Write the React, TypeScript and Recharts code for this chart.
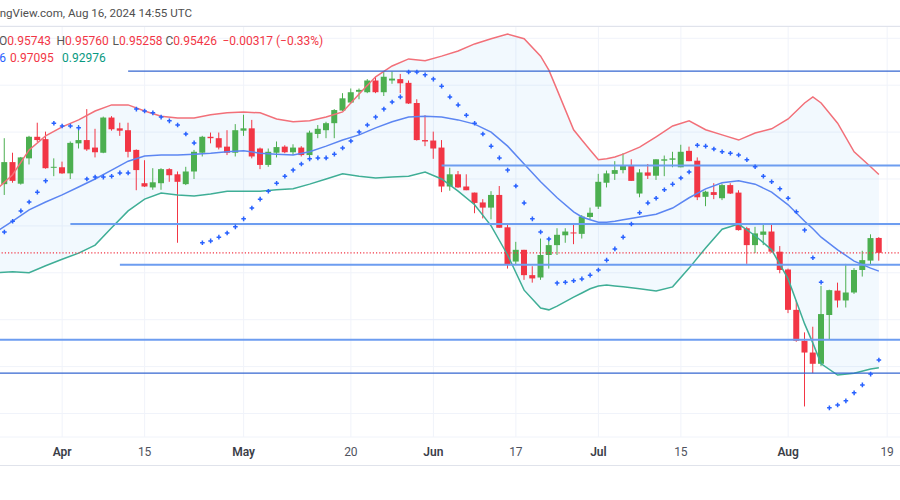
import React from "react";
import {
  ComposedChart,
  Bar,
  Line,
  Area,
  XAxis,
  YAxis,
  CartesianGrid,
  ReferenceLine,
} from "recharts";

const FONT = "Roboto, 'Noto Sans', Arial, sans-serif";
const UP = "#4caf50";
const DOWN = "#f23645";

// weekdays 2024-03-20 .. 2024-08-21 (index i = k - 8, i=0 is Apr 1)
const makeDates = () => {
  const out: string[] = [];
  const d = new Date(Date.UTC(2024, 2, 20));
  while (out.length < 111) {
    const wd = d.getUTCDay();
    if (wd !== 0 && wd !== 6) out.push(d.toISOString().slice(0, 10));
    d.setUTCDate(d.getUTCDate() + 1);
  }
  return out;
};
const dates = makeDates();

const tickDates = [
  "2024-04-01", "2024-04-15", "2024-05-01", "2024-05-20", "2024-06-03",
  "2024-06-17", "2024-07-01", "2024-07-15", "2024-08-01", "2024-08-19",
];
const tickLabels = ["Apr", "15", "May", "20", "Jun", "17", "Jul", "15", "Aug", "19"];
const gridPrices = [0.92, 0.93, 0.94, 0.95, 0.96, 0.97, 0.98, 0.99, 1.0];

// daily candles, first one is i = -7 (Mar 21), last i = 99 (Aug 16)
const CANDLE_FIRST = -7;
const open = [
  0.9689, 0.9736, 0.969, 0.9744, 0.979, 0.9785, 0.9724, 0.9725, 0.9712, 0.9776,
  0.9783, 0.9767, 0.9756, 0.9831, 0.9808, 0.9804, 0.9762, 0.9691, 0.9682, 0.9691,
  0.9721, 0.971, 0.9689, 0.9716, 0.9756, 0.979, 0.9787, 0.9769, 0.9756, 0.9803,
  0.9808, 0.9765, 0.973, 0.9756, 0.9769, 0.9757, 0.9767, 0.9751, 0.9796, 0.9804,
  0.9819, 0.9846, 0.9863, 0.9886, 0.9885, 0.991, 0.9885, 0.991, 0.9913, 0.9905,
  0.9862, 0.9783, 0.9782, 0.9767, 0.9684, 0.971, 0.9684, 0.9671, 0.965, 0.9639,
  0.9666, 0.9597, 0.9524, 0.9549, 0.9495, 0.949, 0.9538, 0.9559, 0.958, 0.9586,
  0.9583, 0.9619, 0.9641, 0.9692, 0.9711, 0.9719, 0.9728, 0.9669, 0.9714, 0.9707,
  0.9739, 0.9741, 0.9725, 0.976, 0.9739, 0.9662, 0.9672, 0.9659, 0.9687, 0.9671,
  0.9595, 0.9559, 0.9581, 0.9588, 0.9545, 0.9507, 0.9421, 0.9355, 0.933, 0.9306,
  0.941, 0.9462, 0.9441, 0.9458, 0.9506, 0.9526, 0.95743,
];
const high = [
  0.9787, 0.9756, 0.9747, 0.9792, 0.982, 0.9801, 0.9744, 0.9737, 0.978, 0.9815,
  0.9849, 0.9807, 0.9833, 0.9834, 0.982, 0.982, 0.9763, 0.974, 0.9723, 0.9723,
  0.9723, 0.9716, 0.9726, 0.9762, 0.9792, 0.9799, 0.9799, 0.9804, 0.9817, 0.9837,
  0.9826, 0.9767, 0.9765, 0.978, 0.9772, 0.9774, 0.977, 0.9803, 0.9815, 0.9822,
  0.9849, 0.9883, 0.9893, 0.9893, 0.9913, 0.9918, 0.9929, 0.9929, 0.9924, 0.991,
  0.987, 0.9836, 0.9801, 0.9783, 0.9724, 0.9717, 0.971, 0.9671, 0.9657, 0.9674,
  0.9685, 0.9604, 0.9566, 0.9549, 0.9514, 0.9573, 0.9573, 0.9595, 0.9595, 0.9605,
  0.9623, 0.9639, 0.9711, 0.9718, 0.9738, 0.9755, 0.9742, 0.9721, 0.9732, 0.9742,
  0.975, 0.9758, 0.9773, 0.9769, 0.9746, 0.9675, 0.9691, 0.969, 0.9691, 0.9676,
  0.9598, 0.9598, 0.9604, 0.9604, 0.9557, 0.9509, 0.9441, 0.9373, 0.9385, 0.9472,
  0.9464, 0.9479, 0.9519, 0.951, 0.9547, 0.9582, 0.9576,
];
const low = [
  0.9666, 0.9692, 0.9688, 0.9731, 0.9779, 0.9722, 0.9706, 0.9711, 0.97, 0.9765,
  0.976, 0.9746, 0.9755, 0.9803, 0.9792, 0.9746, 0.9676, 0.9683, 0.9677, 0.9677,
  0.9694, 0.9564, 0.9687, 0.97, 0.9748, 0.9776, 0.9763, 0.9751, 0.9748, 0.9792,
  0.9744, 0.9721, 0.9726, 0.9746, 0.9755, 0.9751, 0.9748, 0.9742, 0.9787, 0.9787,
  0.9787, 0.9845, 0.9861, 0.987, 0.9883, 0.9883, 0.9877, 0.9903, 0.9883, 0.986,
  0.9782, 0.977, 0.9743, 0.9672, 0.9675, 0.9681, 0.9676, 0.9627, 0.9616, 0.9614,
  0.9596, 0.9509, 0.9517, 0.9485, 0.9479, 0.9485, 0.9509, 0.9538, 0.9564, 0.9561,
  0.9573, 0.9613, 0.9636, 0.9682, 0.9698, 0.9712, 0.9696, 0.9661, 0.97, 0.9698,
  0.9706, 0.9725, 0.9725, 0.9738, 0.9655, 0.9642, 0.9657, 0.9655, 0.9668, 0.959,
  0.9519, 0.9542, 0.9559, 0.9543, 0.9499, 0.9414, 0.9353, 0.9215, 0.9286, 0.9301,
  0.9358, 0.9426, 0.9426, 0.9455, 0.9492, 0.9517, 0.95258,
];
const close = [
  0.9736, 0.9696, 0.9746, 0.979, 0.9783, 0.9723, 0.9726, 0.9712, 0.9777, 0.9783,
  0.9763, 0.9757, 0.9831, 0.9806, 0.9803, 0.9758, 0.9719, 0.9684, 0.9693, 0.9721,
  0.9708, 0.9694, 0.9716, 0.9758, 0.979, 0.9787, 0.9767, 0.9756, 0.9804, 0.9808,
  0.9748, 0.973, 0.9758, 0.9768, 0.9757, 0.9767, 0.9751, 0.9799, 0.9807, 0.9819,
  0.9847, 0.9872, 0.9885, 0.989, 0.991, 0.9885, 0.9918, 0.9914, 0.9904, 0.9861,
  0.9783, 0.978, 0.9765, 0.9684, 0.971, 0.9682, 0.9676, 0.9649, 0.9639, 0.9666,
  0.9596, 0.9517, 0.9549, 0.9495, 0.9488, 0.9538, 0.9559, 0.9581, 0.9588, 0.9585,
  0.962, 0.9628, 0.9694, 0.9712, 0.9719, 0.9728, 0.9696, 0.9714, 0.9707, 0.9742,
  0.9742, 0.9744, 0.9758, 0.9738, 0.9661, 0.9673, 0.9666, 0.9687, 0.9669, 0.9591,
  0.9559, 0.9584, 0.9588, 0.9545, 0.9506, 0.9421, 0.9355, 0.933, 0.9306, 0.9412,
  0.9463, 0.9441, 0.9458, 0.9506, 0.9527, 0.9574, 0.95426,
];
// parabolic SAR, same indices as the candles
const sar = [
  0.9587, 0.961, 0.9632, 0.9651, 0.9672, 0.9696, 0.9819, 0.9813, 0.9813, 0.9809,
  0.97, 0.9704, 0.9704, 0.9706, 0.9713, 0.9713, 0.9849, 0.9845, 0.9841, 0.9832,
  0.9824, 0.9815, 0.9796, 0.9777, 0.9564, 0.9568, 0.9576, 0.9585, 0.9598, 0.9615,
  0.9638, 0.9657, 0.9674, 0.9691, 0.9706, 0.9719, 0.9732, 0.9743, 0.9745, 0.9745,
  0.9753, 0.9766, 0.9781, 0.98, 0.9815, 0.9832, 0.9849, 0.9864, 0.9875, 0.9928,
  0.9928, 0.9922, 0.9913, 0.9898, 0.9875, 0.9858, 0.9836, 0.9819, 0.9796, 0.977,
  0.9745, 0.9719, 0.9685, 0.9649, 0.9615, 0.9587, 0.9572, 0.9478, 0.948, 0.9483,
  0.9487, 0.9495, 0.9506, 0.9527, 0.9551, 0.9576, 0.9604, 0.9628, 0.9649, 0.9659,
  0.9677, 0.9689, 0.9702, 0.9715, 0.9772, 0.977, 0.9764, 0.9758, 0.9755, 0.9751,
  0.9741, 0.9726, 0.9706, 0.9694, 0.9679, 0.9659, 0.963, 0.9591, 0.9532, 0.948,
  0.9212, 0.9218, 0.9227, 0.9244, 0.9261, 0.9284, 0.9314,
];

// Bollinger bands read at these bar indices
const bandIdx = [
  -8, -6, -4, -2, 0, 2, 4, 6, 8, 10, 12, 14, 16, 18, 20, 22, 24, 26, 28, 30,
  32, 34, 36, 38, 40, 42, 44, 46, 48, 50, 52, 54, 56, 58, 59, 60, 62, 63, 64, 65,
  66, 67, 68, 70, 72, 74, 76, 78, 80, 82, 84, 86, 88, 90, 91, 92, 94, 96, 98, 99,
];
const upper = [
  0.9677, 0.9709, 0.9762, 0.9792, 0.9811, 0.9826, 0.9845, 0.9858, 0.9858, 0.9845,
  0.9834, 0.983, 0.983, 0.9837, 0.9841, 0.9843, 0.9841, 0.9828, 0.9822, 0.9824,
  0.9832, 0.9843, 0.9881, 0.9918, 0.9941, 0.9956, 0.9952, 0.9962, 0.9973, 0.9988,
  0.9999, 1.0009, 0.9999, 0.9962, 0.9932, 0.989, 0.9805, 0.9783, 0.9762, 0.9741,
  0.9743, 0.9747, 0.9753, 0.9768, 0.979, 0.9813, 0.9824, 0.9805, 0.9794, 0.9783,
  0.9798, 0.9807, 0.9828, 0.9862, 0.9875, 0.9862, 0.9819, 0.9758, 0.9726, 0.97095,
];
const basis = [
  0.9587, 0.961, 0.9634, 0.9651, 0.9666, 0.9683, 0.97, 0.9719, 0.9738, 0.9749,
  0.9751, 0.9751, 0.9753, 0.9755, 0.9758, 0.976, 0.9755, 0.9753, 0.9751, 0.9758,
  0.977, 0.9783, 0.9794, 0.9809, 0.9822, 0.9832, 0.9834, 0.9832, 0.9826, 0.9817,
  0.98, 0.977, 0.9732, 0.9694, 0.9677, 0.966, 0.963, 0.9619, 0.9613, 0.9608,
  0.9608, 0.961, 0.9613, 0.9619, 0.9625, 0.9638, 0.966, 0.9679, 0.9692, 0.9696,
  0.9689, 0.9672, 0.9645, 0.961, 0.9594, 0.9576, 0.9549, 0.9525, 0.951, 0.95036,
];
const lower = [
  0.95, 0.9502, 0.95, 0.9515, 0.9529, 0.9542, 0.9559, 0.9596, 0.9632, 0.9657,
  0.967, 0.9666, 0.9664, 0.9668, 0.9674, 0.9674, 0.9674, 0.9677, 0.9679, 0.9689,
  0.97, 0.9711, 0.9706, 0.9702, 0.9704, 0.9706, 0.9715, 0.97, 0.9674, 0.9645,
  0.96, 0.9538, 0.9463, 0.9425, 0.9421, 0.9429, 0.9448, 0.9457, 0.9466, 0.9472,
  0.9474, 0.9472, 0.947, 0.9466, 0.9461, 0.947, 0.951, 0.9553, 0.9593, 0.9604,
  0.9579, 0.9549, 0.9487, 0.9391, 0.935, 0.9306, 0.9282, 0.9286, 0.9295, 0.92976,
];

// drawn horizontal levels: price and the bar index where each starts (null = whole width)
const levelPrice = [0.993, 0.9729, 0.9604, 0.9517, 0.9357, 0.9286];
const levelStart = [8, 46, 1, 7, null, null];
const levelThick = [false, true, true, true, true, false];
const lastClose = 0.95426;

const rows = dates.map((date, k) => {
  const i = k - 8;
  const c = i - CANDLE_FIRST;
  const has = c >= 0 && c < close.length;
  const b = bandIdx.indexOf(i);
  return {
    date,
    open: has ? open[c] : null,
    high: has ? high[c] : null,
    low: has ? low[c] : null,
    close: has ? close[c] : null,
    range: has ? [low[c], high[c]] : null,
    sar: has ? sar[c] : null,
    upper: b >= 0 ? upper[b] : null,
    basis: b >= 0 ? basis[b] : null,
    lower: b >= 0 ? lower[b] : null,
    band: b >= 0 ? [lower[b], upper[b]] : null,
  };
});

const Candle = (props: any) => {
  const { x, y, width, height, payload } = props;
  if (!payload || payload.open == null || y == null) return <g />;
  const { open: o, close: c, high: h, low: l } = payload;
  const top = Math.min(y, y + height);
  const hgt = Math.abs(height);
  const span = h - l || 1e-9;
  const yOf = (v: number) => top + ((h - v) / span) * hgt;
  const bTop = yOf(Math.max(o, c));
  const bBot = yOf(Math.min(o, c));
  const color = c >= o ? UP : DOWN;
  const cx = x + width / 2;
  return (
    <g>
      <line x1={cx} x2={cx} y1={top} y2={top + hgt} stroke={color} strokeWidth={1} />
      <rect x={x} y={bTop} width={width} height={Math.max(bBot - bTop, 1)} fill={color} />
    </g>
  );
};

const SarDot = (props: any) => {
  const { cx, cy, payload, index } = props;
  if (!payload || payload.sar == null || cy == null || isNaN(cy)) return <g key={`s${index}`} />;
  const r = 2.3;
  return (
    <path
      key={`s${index}`}
      d={`M${cx - r},${cy}H${cx + r}M${cx},${cy - r}V${cy + r}`}
      stroke="#2962ff"
      strokeWidth={1.5}
    />
  );
};

const TimeTick = (props: any) => {
  const { x, y, payload } = props;
  const label = tickLabels[tickDates.indexOf(payload.value)] ?? "";
  const isMonth = /[A-Za-z]/.test(label);
  return (
    <text
      x={x}
      y={y + 18.5}
      textAnchor="middle"
      fontSize={12}
      fontFamily={FONT}
      fontWeight={isMonth ? 600 : 400}
      fill={isMonth ? "#3b3e48" : "#50535e"}
    >
      {label}
    </text>
  );
};

const txt: React.CSSProperties = {
  position: "absolute",
  whiteSpace: "nowrap",
  fontFamily: FONT,
  fontSize: 12,
  lineHeight: "14px",
};

export default function App() {
  const lastDate = dates[dates.length - 1];
  return (
    <div
      style={{
        position: "absolute",
        left: 0,
        top: 0,
        width: 900,
        height: 500,
        overflow: "hidden",
        background: "#ffffff",
      }}
    >
      <div style={{ position: "absolute", left: -8.125, top: 0 }}>
        <ComposedChart
          width={915.75}
          height={500}
          data={rows}
          margin={{ top: 26, right: 0, bottom: 35, left: 0 }}
        >
          <CartesianGrid stroke="#f0f3fa" />
          <XAxis
            dataKey="date"
            ticks={tickDates}
            interval={0}
            tick={<TimeTick />}
            tickLine={false}
            axisLine={false}
            tickSize={0}
            tickMargin={0}
            height={28}
          />
          <YAxis
            hide
            type="number"
            domain={[0.91499, 1.00262]}
            ticks={gridPrices}
            allowDataOverflow
          />
          <Area
            dataKey="band"
            stroke="none"
            fill="#2196f3"
            fillOpacity={0.06}
            connectNulls
            isAnimationActive={false}
            activeDot={false}
          />
          <Line dataKey="upper" stroke="#f27079" strokeWidth={1.5} dot={false} activeDot={false} connectNulls isAnimationActive={false} />
          <Line dataKey="basis" stroke="#5c86f2" strokeWidth={1.5} dot={false} activeDot={false} connectNulls isAnimationActive={false} />
          <Line dataKey="lower" stroke="#3fae96" strokeWidth={1.5} dot={false} activeDot={false} connectNulls isAnimationActive={false} />
          {levelPrice.map((p, n) =>
            levelStart[n] == null ? (
              <ReferenceLine
                key={`lv${n}`}
                y={p}
                stroke={levelThick[n] ? "#6d9df0" : "#3566d0"}
                strokeWidth={levelThick[n] ? 2 : 1.2}
              />
            ) : (
              <ReferenceLine
                key={`lv${n}`}
                segment={[
                  { x: dates[(levelStart[n] as number) + 8], y: p },
                  { x: lastDate, y: p },
                ]}
                stroke={levelThick[n] ? "#6d9df0" : "#3566d0"}
                strokeWidth={levelThick[n] ? 2 : 1.2}
                ifOverflow="visible"
              />
            )
          )}
          <ReferenceLine y={lastClose} stroke="#f23645" strokeWidth={1.2} strokeDasharray="1.2 2" />
          <Bar dataKey="range" barSize={6} shape={Candle} isAnimationActive={false} />
          <Line dataKey="sar" stroke="none" dot={SarDot} activeDot={false} isAnimationActive={false} />
        </ComposedChart>
      </div>

      <div style={{ position: "absolute", left: 0, top: 26, width: 900, height: 1, background: "#e0e3eb" }} />
      <div style={{ position: "absolute", left: 0, top: 465, width: 900, height: 1, background: "#e0e3eb" }} />

      <div style={{ ...txt, right: 708, top: 6, color: "#4f4f4f", fontSize: 11.6 }}>
        TradingView.com, Aug 16, 2024 14:55 UTC
      </div>

      <div style={{ ...txt, left: -1, top: 34, color: "#555" }}>
        O<span style={{ color: DOWN }}>0.95743</span>
      </div>
      <div style={{ ...txt, left: 56.5, top: 34, color: "#555" }}>
        H<span style={{ color: DOWN }}>0.95760</span>
      </div>
      <div style={{ ...txt, left: 112.5, top: 34, color: "#555" }}>
        L<span style={{ color: DOWN }}>0.95258</span>
      </div>
      <div style={{ ...txt, left: 165.5, top: 34, color: "#555" }}>
        C<span style={{ color: DOWN }}>0.95426</span>
      </div>
      <div style={{ ...txt, left: 222.5, top: 34, color: DOWN }}>
        −0.00317 (−0.33%)
      </div>

      <div style={{ ...txt, right: 894, top: 51, color: "#2962ff" }}>0.95036</div>
      <div style={{ ...txt, left: 10, top: 51, color: DOWN }}>0.97095</div>
      <div style={{ ...txt, left: 62, top: 51, color: "#089981" }}>0.92976</div>
    </div>
  );
}
